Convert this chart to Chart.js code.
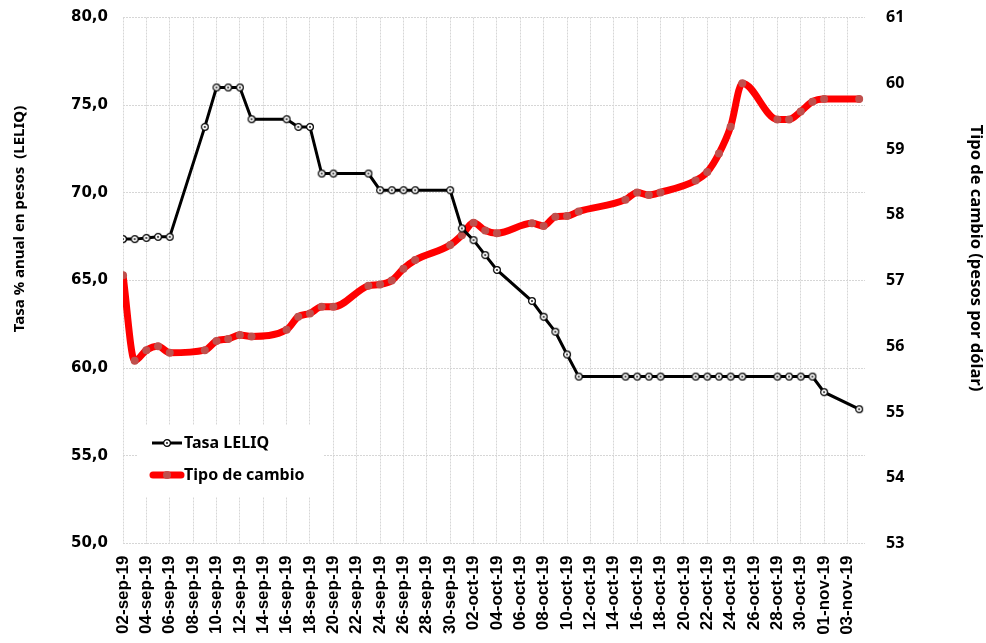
<!DOCTYPE html>
<html>
<head>
<meta charset="utf-8">
<script src="https://cdn.jsdelivr.net/npm/chart.js@4"></script>
<style>
    html, body { margin: 0; padding: 0; background: #fff; }
    #wrap { width: 986px; height: 643px; }
</style>
</head>
<body>
<div id="wrap"><canvas id="leliqChart" width="986" height="643"></canvas></div>
<script>
// Fechas (una por día, los fines de semana y feriados quedan en null)
const fechas = [
    '02-sep-19', '03-sep-19', '04-sep-19', '05-sep-19', '06-sep-19', '07-sep-19', '08-sep-19',
    '09-sep-19', '10-sep-19', '11-sep-19', '12-sep-19', '13-sep-19', '14-sep-19', '15-sep-19',
    '16-sep-19', '17-sep-19', '18-sep-19', '19-sep-19', '20-sep-19', '21-sep-19', '22-sep-19',
    '23-sep-19', '24-sep-19', '25-sep-19', '26-sep-19', '27-sep-19', '28-sep-19', '29-sep-19',
    '30-sep-19', '01-oct-19', '02-oct-19', '03-oct-19', '04-oct-19', '05-oct-19', '06-oct-19',
    '07-oct-19', '08-oct-19', '09-oct-19', '10-oct-19', '11-oct-19', '12-oct-19', '13-oct-19',
    '14-oct-19', '15-oct-19', '16-oct-19', '17-oct-19', '18-oct-19', '19-oct-19', '20-oct-19',
    '21-oct-19', '22-oct-19', '23-oct-19', '24-oct-19', '25-oct-19', '26-oct-19', '27-oct-19',
    '28-oct-19', '29-oct-19', '30-oct-19', '31-oct-19', '01-nov-19', '02-nov-19', '03-nov-19',
    '04-nov-19'
];

// Tasa LELIQ (% anual) - eje izquierdo
const tasaLeliq = [
    67.36, 67.36, 67.43, 67.49, 67.49, null, null,
    73.76, 76.01, 76.01, 76.01, 74.2, null, null,
    74.2, 73.76, 73.76, 71.1, 71.1, null, null,
    71.1, 70.15, 70.15, 70.15, 70.15, null, null,
    70.15, 67.97, 67.3, 66.45, 65.6, null, null,
    63.83, 62.93, 62.08, 60.78, 59.52, null, null,
    null, 59.52, 59.52, 59.52, 59.52, null, null,
    59.52, 59.52, 59.52, 59.52, 59.52, null, null,
    59.52, 59.52, 59.52, 59.52, 58.63, null, null,
    57.66
];

// Tipo de cambio (pesos por dólar) - eje derecho
const tipoCambio = [
    57.08, 55.78, 55.94, 56.0, 55.9, null, null,
    55.94, 56.08, 56.11, 56.17, 56.15, null, null,
    56.25, 56.45, 56.5, 56.6, 56.6, null, null,
    56.92, 56.94, 57.0, 57.18, 57.31, null, null,
    57.54, 57.69, 57.88, 57.76, 57.72, null, null,
    57.87, 57.83, 57.97, 57.98, 58.05, null, null,
    null, 58.23, 58.34, 58.3, 58.34, null, null,
    58.52, 58.65, 58.93, 59.34, 60.0, null, null,
    59.45, 59.45, 59.57, 59.72, 59.76, null, null,
    59.76
];

const ejeIzqTicks = [50, 55, 60, 65, 70, 75, 80];
const ejeDerTicks = [53, 54, 55, 56, 57, 58, 59, 60, 61];

const tituloIzq = 'Tasa % anual en pesos  (LELIQ)';
const tituloDer = 'Tipo de cambio (pesos por dólar)';

const GRID = '#d6d6d6';

// Marcador tipo Excel: círculo blanco con punto central
function makeMarker() {
    const c = document.createElement('canvas');
    c.width = 10; c.height = 10;
    const g = c.getContext('2d');
    g.beginPath();
    g.arc(5, 5, 3.4, 0, Math.PI * 2);
    g.fillStyle = '#fff';
    g.fill();
    g.lineWidth = 1.2;
    g.strokeStyle = '#000';
    g.stroke();
    g.beginPath();
    g.arc(5, 5, 0.9, 0, Math.PI * 2);
    g.fillStyle = '#000';
    g.fill();
    return c;
}
const marker = makeMarker();

function toPoints(arr) {
    return arr.map((v, i) => v == null ? null : { x: i, y: v }).filter(p => p);
}

// Quitar el margen extra que Chart.js reserva para las etiquetas de los extremos
function noOverhang(scale) {
    scale.paddingTop = 0;
    scale.paddingBottom = 0;
}

// Títulos de ejes (un poco por encima del centro, como en el original)
const axisTitles = {
    id: 'axisTitles',
    afterDraw(chart) {
        const ctx = chart.ctx;
        ctx.save();
        ctx.fillStyle = '#000';
        ctx.textAlign = 'center';
        ctx.textBaseline = 'middle';
        ctx.font = 'bold 15px "Noto Sans"';
        ctx.translate(20, 219);
        ctx.rotate(-Math.PI / 2);
        ctx.fillText(tituloIzq, 0, 0);
        ctx.restore();

        ctx.save();
        ctx.fillStyle = '#000';
        ctx.textAlign = 'center';
        ctx.textBaseline = 'middle';
        ctx.font = 'bold 16.5px "Noto Sans"';
        ctx.translate(976, 258);
        ctx.rotate(Math.PI / 2);
        ctx.fillText(tituloDer, 0, 0);
        ctx.restore();
    }
};

// Leyenda dentro del área del gráfico (abajo a la izquierda)
const innerLegend = {
    id: 'innerLegend',
    afterDatasetsDraw(chart) {
        const ctx = chart.ctx;
        ctx.save();
        ctx.fillStyle = '#fff';
        ctx.fillRect(138, 425, 185, 72);
        ctx.font = 'bold 16px "Noto Sans"';
        ctx.textBaseline = 'middle';
        ctx.textAlign = 'left';

        // Tasa LELIQ
        ctx.strokeStyle = '#000';
        ctx.lineWidth = 3;
        ctx.beginPath();
        ctx.moveTo(152, 443);
        ctx.lineTo(182, 443);
        ctx.stroke();
        ctx.drawImage(marker, 162, 438);
        ctx.fillStyle = '#000';
        ctx.fillText('Tasa LELIQ', 184, 443);

        // Tipo de cambio
        ctx.strokeStyle = '#ff0000';
        ctx.lineWidth = 7;
        ctx.lineCap = 'round';
        ctx.beginPath();
        ctx.moveTo(153, 475);
        ctx.lineTo(181, 475);
        ctx.stroke();
        ctx.fillStyle = '#c0504d';
        ctx.beginPath();
        ctx.arc(167, 475, 4, 0, Math.PI * 2);
        ctx.fill();
        ctx.fillStyle = '#000';
        ctx.fillText('Tipo de cambio', 184, 475);
        ctx.restore();
    }
};

new Chart(document.getElementById('leliqChart'), {
    type: 'line',
    data: {
        datasets: [{
            label: 'Tasa LELIQ',
            data: toPoints(tasaLeliq),
            yAxisID: 'y',
            borderColor: '#000',
            borderWidth: 3,
            tension: 0,
            pointStyle: marker,
            pointRadius: 4
        }, {
            label: 'Tipo de cambio',
            data: toPoints(tipoCambio),
            yAxisID: 'y1',
            borderColor: '#ff0000',
            borderWidth: 7,
            cubicInterpolationMode: 'monotone',
            borderCapStyle: 'round',
            borderJoinStyle: 'round',
            pointStyle: 'circle',
            pointRadius: 4,
            pointBorderWidth: 0,
            pointBackgroundColor: '#c0504d'
        }]
    },
    options: {
        responsive: false,
        animation: false,
        layout: { padding: { top: 17.5, left: 0, right: 0, bottom: 0 } },
        plugins: {
            legend: { display: false },
            tooltip: { enabled: false }
        },
        scales: {
            x: {
                type: 'linear',
                min: 0,
                max: 63.5,
                afterFit(scale) { scale.height = 99.5; },
                ticks: {
                    stepSize: 2,
                    includeBounds: false,
                    autoSkip: false,
                    maxRotation: 90,
                    minRotation: 90,
                    padding: 12,
                    color: '#000',
                    font: { family: '"Liberation Sans"', size: 17, weight: 'bold' },
                    callback: v => Number.isInteger(v) ? (fechas[v] || '') : ''
                },
                grid: { color: GRID, drawTicks: false },
                border: { display: false, dash: [2, 1] }
            },
            y: {
                position: 'left',
                min: 50,
                max: 80,
                afterFit(scale) { scale.width = 123; noOverhang(scale); },
                afterBuildTicks(scale) { scale.ticks = ejeIzqTicks.map(v => ({ value: v })); },
                ticks: {
                    padding: 15,
                    color: '#000',
                    font: { family: '"DejaVu Sans"', size: 15, weight: 'bold' },
                    callback: v => v.toFixed(1).replace('.', ',')
                },
                grid: { color: GRID, drawTicks: false },
                border: { display: false, dash: [2, 1] }
            },
            y1: {
                position: 'right',
                min: 53,
                max: 61,
                afterFit(scale) { scale.width = 121; noOverhang(scale); },
                afterBuildTicks(scale) { scale.ticks = ejeDerTicks.map(v => ({ value: v })); },
                ticks: {
                    padding: 21,
                    color: '#000',
                    font: { family: '"Noto Sans"', size: 16, weight: 'bold' }
                },
                grid: { drawOnChartArea: false, drawTicks: false },
                border: { display: false }
            }
        }
    },
    plugins: [innerLegend, axisTitles]
});
</script>
</body>
</html>
